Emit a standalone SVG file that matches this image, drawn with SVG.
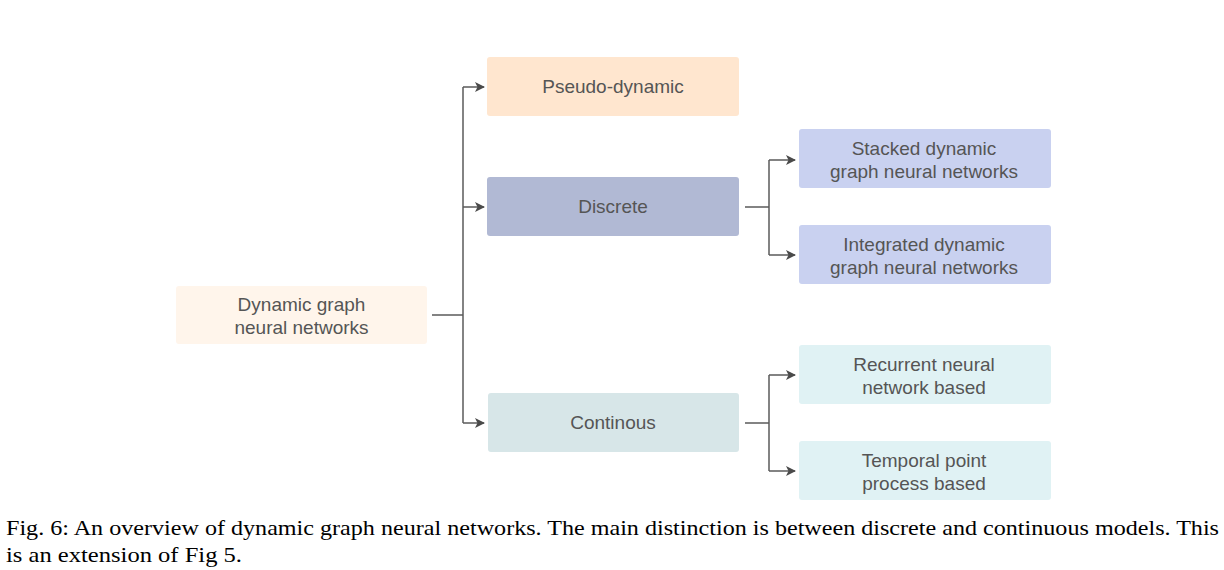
<svg xmlns="http://www.w3.org/2000/svg" width="1224" height="570" viewBox="0 0 1224 570">
<style>
.n{font-family:"Liberation Sans",Arial,sans-serif;font-size:19px;fill:#555555;text-anchor:middle}
.c{fill:none;stroke:#5a5a5a;stroke-width:1.5}
.cap{font-family:"Liberation Serif","Times New Roman",serif;font-size:22px;fill:#000}
</style>
<defs>
<marker id="ah" viewBox="0 0 10 10" refX="9" refY="5" markerWidth="10" markerHeight="10" markerUnits="userSpaceOnUse" orient="auto">
<path d="M0,0 L10,5 L0,10 L2.5,5 Z" fill="#4a4a4a"/>
</marker>
</defs>
<rect width="1224" height="570" fill="#ffffff"/>
<g id="connectors">
<path class="c" d="M432,315 H463"/>
<path class="c" d="M463,87 V423"/>
<path class="c" d="M463,87 H484" marker-end="url(#ah)"/>
<path class="c" d="M463,207 H484" marker-end="url(#ah)"/>
<path class="c" d="M463,423 H484" marker-end="url(#ah)"/>
<path class="c" d="M745,207 H769"/>
<path class="c" d="M769,160 V255"/>
<path class="c" d="M769,160 H795" marker-end="url(#ah)"/>
<path class="c" d="M769,255 H795" marker-end="url(#ah)"/>
<path class="c" d="M745,423 H769"/>
<path class="c" d="M769,375 V471"/>
<path class="c" d="M769,375 H795" marker-end="url(#ah)"/>
<path class="c" d="M769,471 H795" marker-end="url(#ah)"/>
</g>
<g id="root">
<rect x="176" y="286" width="251" height="58" rx="3" fill="#fff5eb"/>
<text class="n" x="301.5" y="311">Dynamic graph</text>
<text class="n" x="301.5" y="334">neural networks</text>
</g>
<g id="pseudo">
<rect x="487" y="57" width="252" height="59" rx="3" fill="#ffe6cf"/>
<text class="n" x="613" y="93">Pseudo-dynamic</text>
</g>
<g id="discrete">
<rect x="487" y="177" width="252" height="59" rx="3" fill="#b1b9d4"/>
<text class="n" x="613" y="213">Discrete</text>
</g>
<g id="continous">
<rect x="488" y="393" width="251" height="59" rx="3" fill="#d7e6e8"/>
<text class="n" x="613" y="429">Continous</text>
</g>
<g id="stacked">
<rect x="799" y="129" width="252" height="59" rx="3" fill="#c9d1f0"/>
<text class="n" x="924" y="155">Stacked dynamic</text>
<text class="n" x="924" y="178">graph neural networks</text>
</g>
<g id="integrated">
<rect x="799" y="225" width="252" height="59" rx="3" fill="#c9d1f0"/>
<text class="n" x="924" y="251">Integrated dynamic</text>
<text class="n" x="924" y="274">graph neural networks</text>
</g>
<g id="recurrent">
<rect x="799" y="345" width="252" height="59" rx="3" fill="#e0f2f4"/>
<text class="n" x="924" y="371">Recurrent neural</text>
<text class="n" x="924" y="394">network based</text>
</g>
<g id="temporal">
<rect x="799" y="441" width="252" height="59" rx="3" fill="#e0f2f4"/>
<text class="n" x="924" y="467">Temporal point</text>
<text class="n" x="924" y="490">process based</text>
</g>
<g id="caption">
<text class="cap" x="6" y="535" textLength="1213" lengthAdjust="spacingAndGlyphs">Fig. 6:  An overview of dynamic graph neural networks. The main distinction is between discrete and continuous models. This</text>
<text class="cap" x="6" y="562" textLength="236" lengthAdjust="spacingAndGlyphs">is an extension of Fig 5.</text>
</g>
</svg>
